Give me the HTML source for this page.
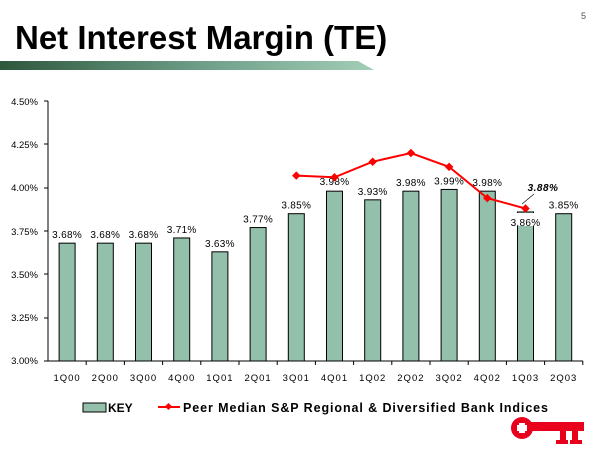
<!DOCTYPE html>
<html><head><meta charset="utf-8"><style>
html,body{margin:0;padding:0;background:#fff;}
svg{display:block;font-family:"Liberation Sans",Arial,sans-serif;}
</style></head><body>
<svg width="600" height="450" viewBox="0 0 600 450" xmlns="http://www.w3.org/2000/svg">
<defs><linearGradient id="g" x1="0" x2="1"><stop offset="0" stop-color="#2e573d"/><stop offset="0.55" stop-color="#6fa08a"/><stop offset="1" stop-color="#a3cdb6"/></linearGradient></defs>
<text x="15" y="49" font-size="33" font-weight="bold" fill="#000">Net Interest Margin (TE)</text>
<text x="581" y="19" font-size="9" fill="#555">5</text>
<polygon points="0,61 358,61 374,70 0,70" fill="url(#g)"/>
<g font-size="9.5" fill="#000" text-anchor="end">
<text x="38" y="105">4.50%</text><text x="38" y="148">4.25%</text><text x="38" y="191">4.00%</text><text x="38" y="235">3.75%</text><text x="38" y="278">3.50%</text><text x="38" y="321">3.25%</text><text x="38" y="364">3.00%</text>
</g>
<g stroke="#000" stroke-width="1">
<line x1="48" y1="101" x2="48" y2="361"/><line x1="48" y1="361" x2="583" y2="361"/>
<line x1="44" y1="101" x2="48" y2="101"/><line x1="44" y1="144" x2="48" y2="144"/><line x1="44" y1="188" x2="48" y2="188"/><line x1="44" y1="231" x2="48" y2="231"/><line x1="44" y1="274" x2="48" y2="274"/><line x1="44" y1="318" x2="48" y2="318"/><line x1="44" y1="361" x2="48" y2="361"/>
</g>
<g id="bars" fill="#93c0aa" stroke="#000" stroke-width="1"></g>
<g id="ticks" stroke="#000"></g>
<g id="xl" font-size="9.5" text-anchor="middle" letter-spacing="1"></g>
<rect x="506" y="213" width="34" height="13" fill="#fff"/>
<g id="vl" font-size="10" text-anchor="middle" letter-spacing="0.3"></g>
<polyline id="ln" fill="none" stroke="#f00" stroke-width="2"/>
<g id="mk" fill="#f00"></g>
<line x1="534" y1="194" x2="522" y2="204" stroke="#000" stroke-width="0.6"/>
<text x="543" y="191" font-size="10" font-style="italic" font-weight="bold" text-anchor="middle" letter-spacing="0.5">3.88%</text>
<rect x="83" y="403" width="23" height="9" fill="#93c0aa" stroke="#000"/>
<text x="108" y="412" font-size="12" font-weight="bold">KEY</text>
<line x1="158" y1="407" x2="180" y2="407" stroke="#f00" stroke-width="2"/>
<rect x="166" y="404" width="5" height="5" fill="#f00" transform="rotate(45 168.5 406.5)"/>
<text x="183" y="412" font-size="12.5" font-weight="bold" textLength="365" lengthAdjust="spacing">Peer Median S&amp;P Regional &amp; Diversified Bank Indices</text>
<g fill="#e8001c">
<circle cx="522" cy="428" r="11"/>
<rect x="528" y="422" width="56" height="9"/>
<rect x="560" y="428" width="6" height="15"/><rect x="572" y="428" width="6" height="15"/><rect x="556" y="440" width="12" height="4"/><rect x="570" y="440" width="12" height="4"/>
<rect x="517" y="425" width="10" height="6" fill="#fff"/><rect x="519" y="423" width="6" height="10" fill="#fff"/>
</g>
<script>
var v=[3.68,3.68,3.68,3.71,3.63,3.77,3.85,3.98,3.93,3.98,3.99,3.98,3.86,3.85];
var n=["1Q00","2Q00","3Q00","4Q00","1Q01","2Q01","3Q01","4Q01","1Q02","2Q02","3Q02","4Q02","1Q03","2Q03"];
var p={6:4.07,7:4.06,8:4.15,9:4.20,10:4.12,11:3.94,12:3.88};
function Y(x){return 361-(x-3)*173.3;}
var w=38.2,ns="http://www.w3.org/2000/svg";
function el(t,a,par,txt){var e=document.createElementNS(ns,t);for(var k in a)e.setAttribute(k,a[k]);if(txt)e.textContent=txt;document.getElementById(par).appendChild(e);}
var pts=[];
for(var i=0;i<14;i++){var c=48+w*(i+0.5);
el("rect",{x:c-8,y:Y(v[i]),width:16,height:361-Y(v[i])},"bars");
el("line",{x1:48+w*(i+1),y1:361,x2:48+w*(i+1),y2:365},"ticks");
el("text",{x:c,y:381},"xl",n[i]);
var ly=Y(v[i])-5; if(i==12)ly=Y(v[i])+14; if(i==7)ly=Y(v[i])-6;
el("text",{x:c,y:ly},"vl",v[i].toFixed(2)+"%");
if(p[i]){pts.push(c+","+Y(p[i]));el("rect",{x:c-3,y:Y(p[i])-3,width:6,height:6,transform:"rotate(45 "+c+" "+Y(p[i])+")"},"mk");}
}
document.getElementById("ln").setAttribute("points",pts.join(" "));
</script>
</svg>
</body></html>
